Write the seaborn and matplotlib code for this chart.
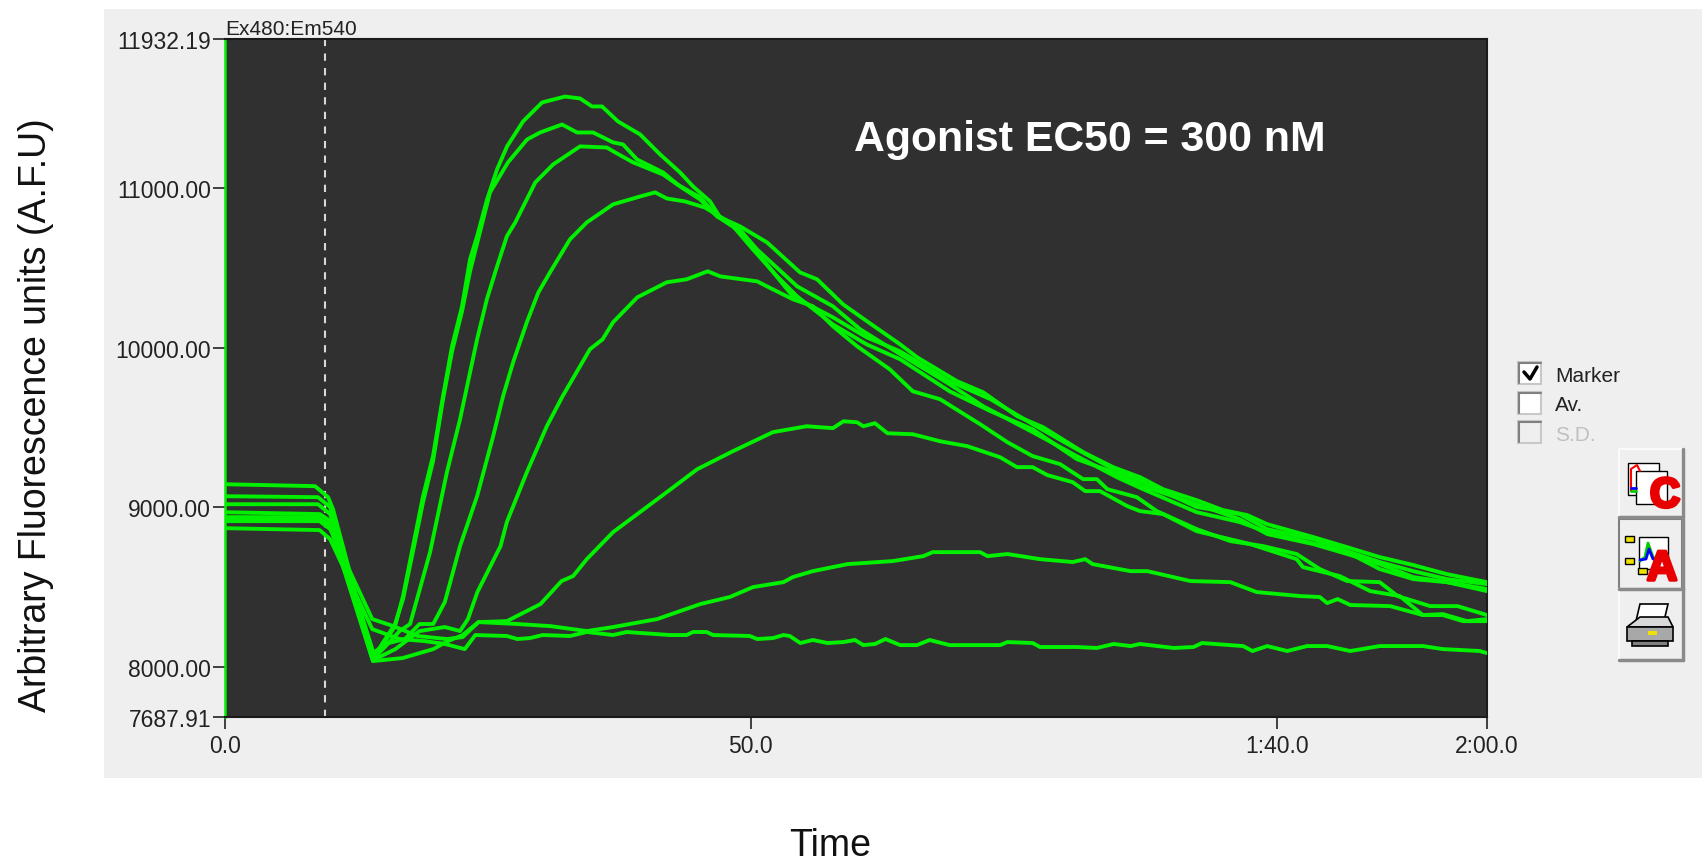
import matplotlib
matplotlib.use('Agg')
import matplotlib.pyplot as plt
import matplotlib.patheffects as pe
from matplotlib.patches import Rectangle, Polygon
import pandas as pd
import seaborn as sns

# Well traces, time in seconds, signal in arbitrary fluorescence units
time_a = [0, 9.03, 10, 14.07, 14.74, 16.17, 16.93, 17.88, 18.83, 19.78, 20.73, 21.59, 22.54, 23.3, 23.97, 24.92, 25.87, 26.82, 28.34, 30.15, 32.33, 33.76, 34.9, 35.85, 37.37, 39.47, 41.37, 43.27, 44.51, 46.12, 47.07, 48.98, 51.54, 54.68, 56.3, 58.77, 61.05, 64.19, 65.81, 69.61, 72.09, 75.32, 77.79, 81.6, 84.45, 87.02, 89.2, 92.4, 94.9, 97.2, 99.1, 103.5, 106.7, 109.8, 113, 116.2, 120]
sig_a = [8970, 8958, 8914, 8038, 8113, 8257, 8445, 8758, 9070, 9321, 9696, 10009, 10259, 10553, 10697, 10928, 11116, 11260, 11416, 11535, 11572, 11560, 11510, 11510, 11416, 11335, 11210, 11097, 11009, 10916, 10816, 10759, 10659, 10471, 10428, 10271, 10165, 10021, 9940, 9790, 9721, 9571, 9502, 9346, 9252, 9189, 9114, 9045, 8983, 8952, 8895, 8814, 8751, 8689, 8639, 8582, 8532]

time_b = [0, 9.03, 10, 14.07, 14.93, 16.17, 16.93, 17.88, 18.83, 19.78, 20.73, 21.59, 22.54, 23.3, 25.2, 26.91, 28.72, 29.96, 32.05, 33.48, 35, 36.9, 37.85, 39.18, 41.65, 43.27, 45.17, 46.79, 48.69, 50.59, 54.4, 57.8, 60.4, 64.2, 68.9, 72.1, 76.8, 81, 84.8, 87.3, 92.4, 96.5, 99.1, 101.9, 106.7, 109.8, 113, 116.2, 120]
sig_b = [8926, 8926, 8889, 8051, 8145, 8270, 8426, 8726, 9033, 9289, 9677, 9977, 10228, 10478, 10972, 11160, 11303, 11347, 11397, 11347, 11347, 11285, 11272, 11178, 11097, 11009, 10928, 10822, 10759, 10615, 10384, 10259, 10115, 9959, 9771, 9633, 9471, 9321, 9189, 9114, 8970, 8908, 8845, 8801, 8720, 8614, 8551, 8532, 8476]

time_c = [0, 8.56, 9.8, 10.27, 14.07, 15.2, 16.6, 17.6, 19.5, 21.1, 22.35, 23.97, 24.9, 25.87, 26.8, 27.6, 29.5, 31.2, 33.76, 36.3, 37.1, 38.8, 41.65, 43, 45.17, 46.8, 48.7, 50.2, 54, 57.8, 61, 64.2, 68.9, 72.8, 76.8, 81, 84.5, 87.3, 92.4, 96.5, 99.1, 103.5, 106.7, 109.8, 113, 116.2, 120]
sig_c = [9145, 9133, 9064, 8989, 8051, 8126, 8226, 8270, 8720, 9220, 9552, 10052, 10303, 10509, 10697, 10784, 11034, 11147, 11260, 11253, 11222, 11160, 11084, 11022, 10941, 10822, 10740, 10628, 10321, 10190, 10065, 9977, 9790, 9677, 9521, 9364, 9239, 9158, 9002, 8958, 8864, 8801, 8726, 8658, 8601, 8551, 8520]

time_d = [0, 8.84, 10, 14, 15.2, 17.1, 18.5, 19.8, 20.9, 22.35, 23.97, 25.5, 26.44, 27.4, 28.7, 29.8, 30.9, 32.8, 34.4, 36.9, 39.5, 40.9, 42, 43.7, 45.6, 48, 50.2, 52.5, 54.4, 57.8, 61, 64.2, 68.9, 72.8, 76.8, 81, 84.5, 87.3, 92.4, 96.5, 99.1, 103.5, 106.7, 109.8, 113, 116.2, 120]
sig_d = [9070, 9064, 9002, 8082, 8145, 8176, 8270, 8270, 8407, 8758, 9070, 9446, 9696, 9909, 10159, 10346, 10471, 10678, 10784, 10897, 10947, 10972, 10934, 10916, 10878, 10784, 10615, 10446, 10321, 10146, 10021, 9927, 9727, 9602, 9489, 9302, 9220, 9133, 9020, 8926, 8833, 8770, 8708, 8645, 8564, 8532, 8489]

time_e = [0, 8.84, 10, 14.3, 16.2, 18.5, 20.9, 22.35, 23.1, 24, 26.2, 26.8, 28.7, 30.6, 32.1, 34.7, 35.9, 36.9, 39.2, 42, 43.9, 45.9, 47.1, 50.6, 52.1, 54, 55.9, 57.8, 60.1, 63.2, 65.4, 68, 71.8, 74.4, 76.8, 79.4, 81.6, 82.9, 83.9, 86.7, 88.6, 92.4, 95.6, 98.7, 101.9, 104.1, 106.7, 109.8, 111.5, 114.6, 117.2, 120]
sig_e = [9020, 9020, 8958, 8051, 8113, 8226, 8251, 8226, 8301, 8470, 8758, 8908, 9220, 9508, 9696, 9990, 10052, 10159, 10315, 10409, 10428, 10478, 10446, 10415, 10365, 10303, 10259, 10134, 10009, 9865, 9727, 9677, 9521, 9408, 9321, 9271, 9177, 9177, 9114, 9064, 8977, 8864, 8789, 8758, 8708, 8614, 8539, 8532, 8445, 8382, 8382, 8326]

time_f = [0, 8.84, 10, 14.07, 16.9, 19.8, 21.2, 22.6, 24.1, 26.8, 30, 32, 33.1, 34.4, 36.9, 39.2, 42, 44.9, 48.3, 52.1, 55.3, 57.8, 58.8, 60.1, 60.7, 61.8, 63, 65.4, 68, 70.6, 73.7, 75.3, 76.8, 78.2, 80.6, 81.8, 83.2, 85.8, 87, 89.2, 92.4, 97.5, 101.9, 102.5, 106, 108.9, 111.7, 113.9, 115.8, 117.7, 120]
sig_f = [8939, 8939, 8883, 8038, 8057, 8113, 8163, 8201, 8282, 8288, 8395, 8539, 8570, 8676, 8845, 8958, 9095, 9239, 9352, 9471, 9508, 9496, 9539, 9533, 9508, 9527, 9464, 9458, 9414, 9383, 9314, 9252, 9252, 9202, 9158, 9102, 9102, 9008, 8977, 8958, 8851, 8770, 8676, 8626, 8570, 8476, 8445, 8326, 8326, 8288, 8288]

time_g = [0, 9, 10, 14, 16, 18.3, 21.1, 22.6, 24.1, 27.8, 30.9, 34.4, 36.9, 41.1, 45.2, 48, 50.2, 53.1, 54, 55.9, 59.2, 63.5, 66.4, 67.3, 71.8, 72.5, 74.4, 77.5, 80.6, 81.8, 82.5, 86.1, 87.7, 91.8, 95.6, 98.1, 102.2, 104.1, 104.8, 105.8, 107, 110.8, 113.9, 115.8, 118.1, 120]
sig_g = [8914, 8914, 8864, 8301, 8257, 8195, 8176, 8188, 8282, 8270, 8257, 8226, 8251, 8301, 8395, 8439, 8501, 8532, 8564, 8601, 8645, 8664, 8695, 8720, 8720, 8695, 8708, 8676, 8658, 8676, 8645, 8601, 8601, 8539, 8532, 8470, 8445, 8439, 8401, 8426, 8389, 8382, 8326, 8332, 8288, 8301]

time_h = [0, 9, 10, 14, 16.6, 19, 20.9, 22.8, 23.8, 26.8, 27.8, 29, 30.2, 32.8, 34.4, 36.9, 38.2, 42.3, 43.9, 44.5, 45.8, 46.4, 49.9, 50.6, 52.1, 53.1, 53.7, 54.7, 55.9, 57.3, 58.8, 59.9, 60.7, 61.8, 62.8, 64.2, 65.8, 67, 68.9, 73.7, 74.4, 76.8, 77.5, 81, 82.9, 84.5, 86.1, 87, 90.2, 92.1, 92.9, 96.8, 97.7, 99.1, 101, 102.9, 104.8, 107, 109.8, 113.9, 115.8, 119.3, 120]
sig_h = [8870, 8858, 8801, 8238, 8176, 8163, 8145, 8113, 8201, 8195, 8176, 8182, 8201, 8195, 8220, 8201, 8220, 8201, 8201, 8220, 8220, 8201, 8195, 8176, 8182, 8201, 8195, 8151, 8170, 8151, 8157, 8170, 8138, 8145, 8176, 8138, 8138, 8170, 8138, 8138, 8157, 8151, 8126, 8126, 8120, 8145, 8132, 8145, 8120, 8126, 8151, 8132, 8101, 8132, 8101, 8132, 8132, 8101, 8132, 8132, 8113, 8101, 8088]

y_ticks = [7687.91, 8000, 9000, 10000, 11000, 11932.19]
x_ticks = [0, 50, 100, 120]
x_tick_labels = ['0.0', '50.0', '1:40.0', '2:00.0']
marker_time = 9.5
channel_label = 'Ex480:Em540'
annotation = 'Agonist EC50 = 300 nM'
check_labels = ['Marker', 'Av.', 'S.D.']

wells = {'a': (time_a, sig_a), 'b': (time_b, sig_b), 'c': (time_c, sig_c), 'd': (time_d, sig_d),
         'e': (time_e, sig_e), 'f': (time_f, sig_f), 'g': (time_g, sig_g), 'h': (time_h, sig_h)}
traces = pd.concat([pd.DataFrame({'well': k, 'time': t, 'signal': s}) for k, (t, s) in wells.items()])

GREEN = '#00f000'
W, H = 1702, 862

sns.set_style('white')
plt.rcParams['font.family'] = ['Liberation Sans', 'DejaVu Sans']

fig = plt.figure(figsize=(W / 100, H / 100), dpi=100, facecolor='white')

# pixel-space layer for the grey window and the widgets
bg = fig.add_axes([0, 0, 1, 1], zorder=0)
bg.set_xlim(0, W)
bg.set_ylim(H, 0)
bg.axis('off')
bg.add_patch(Rectangle((104, 10), W - 104, 769, fc='#efefef', ec='none'))

ax = fig.add_axes([225 / W, (H - 718) / H, 1262 / W, 678 / H], zorder=1)
ax.set_facecolor('#303030')
sns.lineplot(data=traces, x='time', y='signal', units='well', estimator=None, sort=False,
             color=GREEN, linewidth=2.8, ax=ax, legend=False, zorder=3)
ax.axvline(marker_time, color='#d8d8d8', lw=1.5, dashes=(3.5, 3.5), zorder=2)

ax.set_xlim(0, 120)
ax.set_ylim(y_ticks[0], y_ticks[-1])
ax.set_yticks(y_ticks)
ax.set_yticklabels(['%.2f' % v for v in y_ticks])
ax.set_xticks(x_ticks)
ax.set_xticklabels(x_tick_labels)
ax.tick_params(axis='both', length=8.5, width=1.2, color='#222222', labelsize=16.5,
               labelcolor='#222222', left=True, bottom=True)
ax.tick_params(axis='y', pad=1.5)
ax.tick_params(axis='x', pad=3.5)
ax.set_xlabel('')
ax.set_ylabel('')
for side in ['top', 'bottom', 'right']:
    ax.spines[side].set_color('#1a1a1a')
    ax.spines[side].set_linewidth(1.5)
ax.spines['left'].set_color(GREEN)
ax.spines['left'].set_linewidth(1.8)

ax.text(0, 1.002, channel_label, transform=ax.transAxes, ha='left', va='bottom',
        fontsize=15, color='#222222')
ax.text(0.685, 0.852, annotation, transform=ax.transAxes, ha='center', va='center',
        fontsize=30.8, fontweight='bold', color='white')

bg.text(36, 415, 'Arbitrary Fluorescence units (A.F.U)', rotation=90, ha='center', va='center',
        fontsize=27, color='#111111')
bg.text(830, 846, 'Time', ha='center', va='center', fontsize=27, color='#111111')

# check boxes
for i, label in enumerate(check_labels):
    y0 = 363 + i * 29.5
    off = i == 2
    bg.add_patch(Rectangle((1518, y0), 23, 22, fc='#efefef' if off else 'white', ec='#c8c8c8', lw=1.5))
    bg.plot([1519, 1541], [y0 + 1, y0 + 1], color='#808080', lw=1.5)
    bg.plot([1519, 1519], [y0 + 1, y0 + 21], color='#808080', lw=1.5)
    bg.text(1555, y0 + 13.5, label, ha='left', va='center', fontsize=15,
            color='#c0c0c0' if off else '#222222')
bg.plot([1524, 1530, 1537], [373, 380, 368], color='black', lw=2.5)


def button(y0, y1, pressed=False):
    edge = '#808080' if pressed else '#fafafa'
    bg.add_patch(Rectangle((1619, y0), 63, y1 - y0, fc='#efefef', ec=edge, lw=1.5))
    bg.plot([1683, 1683], [y0, y1], color='#8a8a8a', lw=2.5)
    bg.plot([1619, 1683], [y1, y1], color='#8a8a8a', lw=2.5)


def red_letter(x, y, letter, size):
    bg.text(x, y, letter, ha='center', va='center', fontsize=size, fontweight='bold', color='#e80000',
            path_effects=[pe.withStroke(linewidth=2.5, foreground='#e80000')])


button(450, 518)
button(520, 590, pressed=True)
button(590, 661)

# "C" button icon
bg.add_patch(Rectangle((1628, 464), 31, 32, fc='white', ec='black', lw=1))
bg.plot([1631, 1631, 1637, 1640], [492, 470, 466, 472], color='red', lw=1.5)
bg.plot([1631, 1636], [489, 489], color='blue', lw=2)
bg.plot([1631, 1636], [492, 492], color='#00cc00', lw=2)
bg.add_patch(Rectangle((1636, 472), 31, 33, fc='white', ec='black', lw=1))
red_letter(1665, 497, 'C', 30)

# "A" button icon
bg.add_patch(Rectangle((1639, 538), 29, 32, fc='white', ec='black', lw=1))
for x0, x1, y in [(1625, 1634, 540), (1625, 1634, 562), (1638, 1647, 572)]:
    bg.add_patch(Rectangle((x0, y - 3), x1 - x0, 6, fc='#f0e000', ec='black', lw=1))
bg.plot([1640, 1645, 1648, 1653, 1658], [562, 558, 544, 558, 562], color='#00cc00', lw=2)
bg.plot([1640, 1646, 1649, 1653, 1658], [561, 560, 550, 560, 561], color='blue', lw=2)
red_letter(1662, 570, 'A', 30)

# printer button icon
bg.add_patch(Polygon([(1640, 605), (1668, 605), (1664, 622), (1636, 622)], fc='white', ec='black', lw=1.2))
bg.add_patch(Polygon([(1627, 628), (1640, 618), (1668, 618), (1673, 628)], fc='#d8d8d8', ec='black', lw=1.2))
bg.add_patch(Rectangle((1627, 628), 46, 14, fc='#a8a8a8', ec='black', lw=1.2))
bg.add_patch(Rectangle((1632, 642), 36, 5, fc='#808080', ec='black', lw=1.2))
bg.add_patch(Rectangle((1648, 632), 9, 4, fc='#f0e000', ec='none'))

fig.savefig('out.png', dpi=100)
